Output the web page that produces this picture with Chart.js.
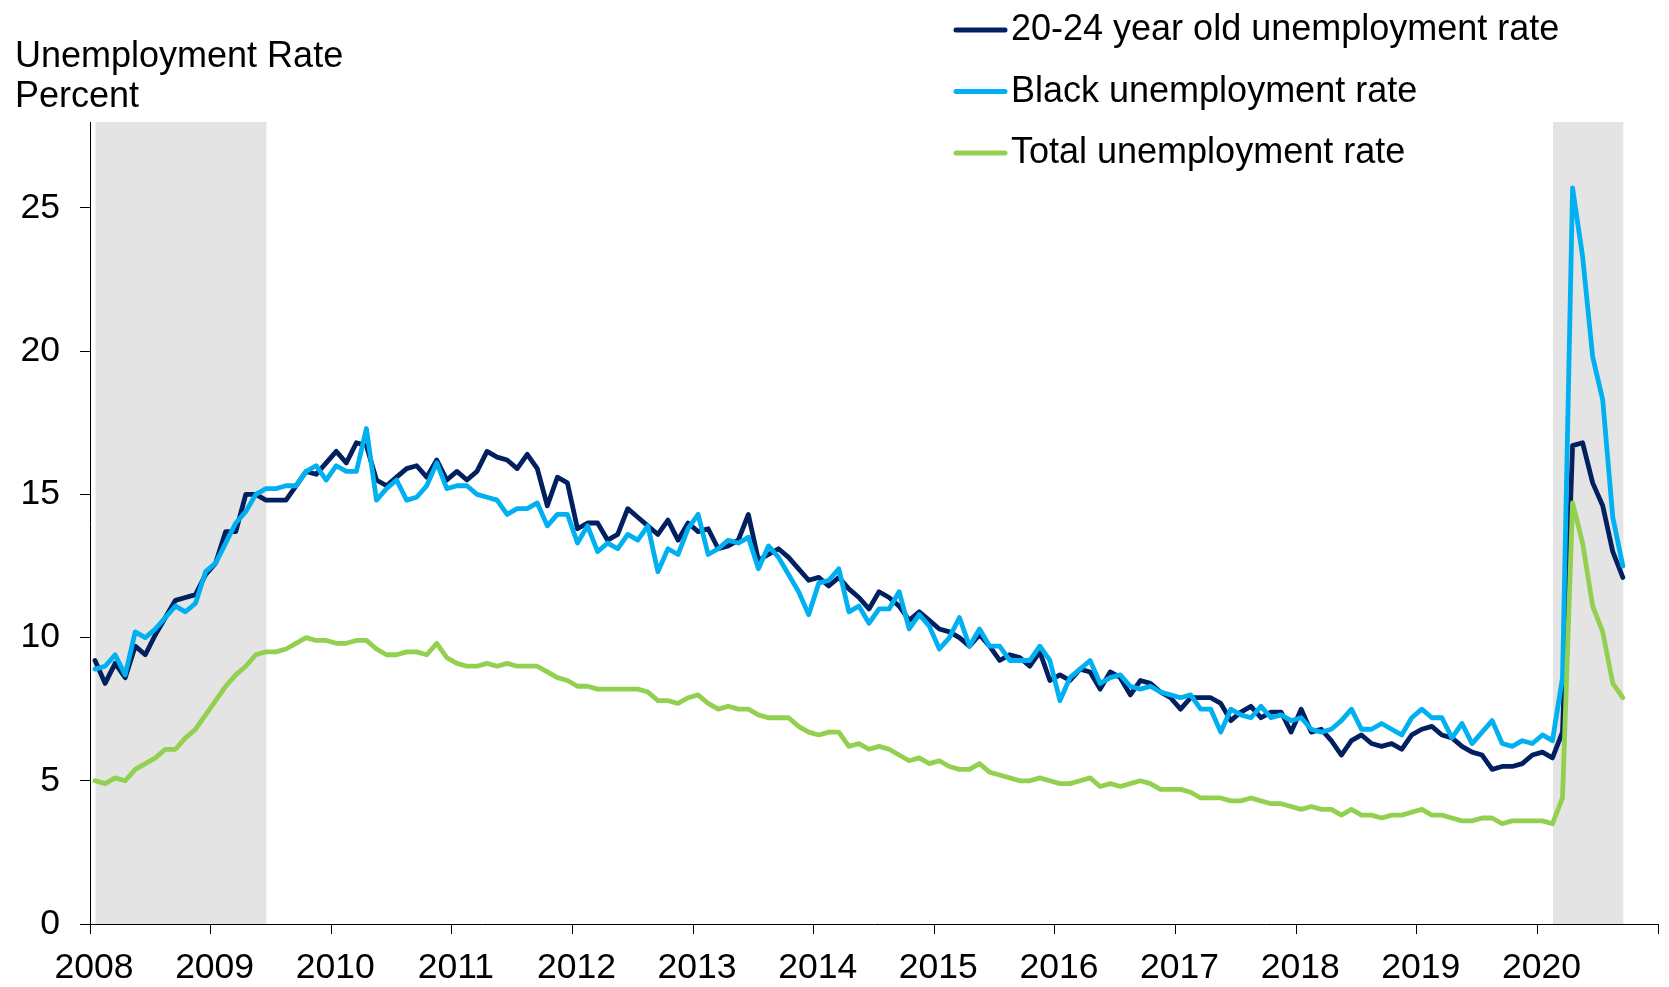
<!DOCTYPE html>
<html>
<head>
<meta charset="utf-8">
<script src="https://cdn.jsdelivr.net/npm/chart.js@4/dist/chart.umd.min.js"></script>
<style>
  html, body { margin: 0; padding: 0; background: #ffffff; }
  canvas { display: block; }
</style>
</head>
<body>
<canvas id="c" width="1669" height="987"></canvas>
<script>
// ---- Data (monthly, Jan 2008 .. Sep 2020) ----
const yearLabels = ['2008','2009','2010','2011','2012','2013','2014','2015','2016','2017','2018','2019','2020'];
const seriesLabels = ['20-24 year old unemployment rate', 'Black unemployment rate', 'Total unemployment rate'];

const youth2024Rate = [
  9.2, 8.4, 9.1, 8.6, 9.7, 9.4, 10.1, 10.7, 11.3, 11.4, 11.5, 12.2,
  12.6, 13.7, 13.7, 15.0, 15.0, 14.8, 14.8, 14.8, 15.3, 15.8, 15.7, 16.1,
  16.5, 16.1, 16.8, 16.7, 15.5, 15.3, 15.6, 15.9, 16.0, 15.6, 16.2, 15.5,
  15.8, 15.5, 15.8, 16.5, 16.3, 16.2, 15.9, 16.4, 15.9, 14.6, 15.6, 15.4,
  13.8, 14.0, 14.0, 13.4, 13.6, 14.5, 14.2, 13.9, 13.6, 14.1, 13.4, 14.0,
  13.7, 13.8, 13.1, 13.2, 13.4, 14.3, 12.7, 12.9, 13.1, 12.8, 12.4, 12.0,
  12.1, 11.8, 12.1, 11.7, 11.4, 11.0, 11.6, 11.4, 11.1, 10.6, 10.9, 10.6,
  10.3, 10.2, 10.0, 9.7, 10.1, 9.7, 9.2, 9.4, 9.3, 9.0, 9.5, 8.5,
  8.7, 8.5, 8.9, 8.8, 8.2, 8.8, 8.6, 8.0, 8.5, 8.4, 8.1, 7.9,
  7.5, 7.9, 7.9, 7.9, 7.7, 7.1, 7.4, 7.6, 7.2, 7.4, 7.4, 6.7,
  7.5, 6.7, 6.8, 6.4, 5.9, 6.4, 6.6, 6.3, 6.2, 6.3, 6.1, 6.6,
  6.8, 6.9, 6.6, 6.5, 6.2, 6.0, 5.9, 5.4, 5.5, 5.5, 5.6, 5.9,
  6.0, 5.8, 6.7, 16.7, 16.8, 15.4, 14.6, 13.0, 12.1
];

const blackRate = [
  8.9, 9.0, 9.4, 8.7, 10.2, 10.0, 10.3, 10.7, 11.1, 10.9, 11.2, 12.3,
  12.6, 13.3, 14.0, 14.4, 15.0, 15.2, 15.2, 15.3, 15.3, 15.8, 16.0, 15.5,
  16.0, 15.8, 15.8, 17.3, 14.8, 15.2, 15.5, 14.8, 14.9, 15.3, 16.1, 15.2,
  15.3, 15.3, 15.0, 14.9, 14.8, 14.3, 14.5, 14.5, 14.7, 13.9, 14.3, 14.3,
  13.3, 13.9, 13.0, 13.3, 13.1, 13.6, 13.4, 13.9, 12.3, 13.1, 12.9, 13.8,
  14.3, 12.9, 13.1, 13.4, 13.3, 13.5, 12.4, 13.2, 12.8, 12.2, 11.6, 10.8,
  11.9, 12.0, 12.4, 10.9, 11.1, 10.5, 11.0, 11.0, 11.6, 10.3, 10.8, 10.4,
  9.6, 10.0, 10.7, 9.7, 10.3, 9.7, 9.7, 9.2, 9.2, 9.2, 9.7, 9.2,
  7.8, 8.6, 8.9, 9.2, 8.4, 8.6, 8.7, 8.3, 8.2, 8.3, 8.1, 8.0,
  7.9, 8.0, 7.5, 7.5, 6.7, 7.5, 7.3, 7.2, 7.6, 7.2, 7.3, 7.1,
  7.2, 6.8, 6.7, 6.8, 7.1, 7.5, 6.8, 6.8, 7.0, 6.8, 6.6, 7.2,
  7.5, 7.2, 7.2, 6.5, 7.0, 6.3, 6.7, 7.1, 6.3, 6.2, 6.4, 6.3,
  6.6, 6.4, 8.6, 25.7, 23.3, 19.8, 18.3, 14.2, 12.5
];

const totalRate = [
  5.0, 4.9, 5.1, 5.0, 5.4, 5.6, 5.8, 6.1, 6.1, 6.5, 6.8, 7.3,
  7.8, 8.3, 8.7, 9.0, 9.4, 9.5, 9.5, 9.6, 9.8, 10.0, 9.9, 9.9,
  9.8, 9.8, 9.9, 9.9, 9.6, 9.4, 9.4, 9.5, 9.5, 9.4, 9.8, 9.3,
  9.1, 9.0, 9.0, 9.1, 9.0, 9.1, 9.0, 9.0, 9.0, 8.8, 8.6, 8.5,
  8.3, 8.3, 8.2, 8.2, 8.2, 8.2, 8.2, 8.1, 7.8, 7.8, 7.7, 7.9,
  8.0, 7.7, 7.5, 7.6, 7.5, 7.5, 7.3, 7.2, 7.2, 7.2, 6.9, 6.7,
  6.6, 6.7, 6.7, 6.2, 6.3, 6.1, 6.2, 6.1, 5.9, 5.7, 5.8, 5.6,
  5.7, 5.5, 5.4, 5.4, 5.6, 5.3, 5.2, 5.1, 5.0, 5.0, 5.1, 5.0,
  4.9, 4.9, 5.0, 5.1, 4.8, 4.9, 4.8, 4.9, 5.0, 4.9, 4.7, 4.7,
  4.7, 4.6, 4.4, 4.4, 4.4, 4.3, 4.3, 4.4, 4.3, 4.2, 4.2, 4.1,
  4.0, 4.1, 4.0, 4.0, 3.8, 4.0, 3.8, 3.8, 3.7, 3.8, 3.8, 3.9,
  4.0, 3.8, 3.8, 3.7, 3.6, 3.6, 3.7, 3.7, 3.5, 3.6, 3.6, 3.6,
  3.6, 3.5, 4.4, 14.7, 13.3, 11.1, 10.2, 8.4, 7.9
];

// Recession periods, as month indices from Jan 2008 (start, end)
const recessionStartMonth = [0, 145];
const recessionEndMonth = [17, 152];

const yTickValues = [0, 5, 10, 15, 20, 25];

// ---- Styles ----
const FONT = "'Liberation Sans', Arial, Helvetica, sans-serif";
const colors = ['#002060', '#00B0F0', '#92D050'];
const monthsPerYear = 12;
const axisMonths = yearLabels.length * monthsPerYear;

function toPoints(arr) {
  return arr.map((v, i) => ({ x: i + 0.5, y: v }));
}

const recessionPlugin = {
  id: 'recession',
  beforeDatasetsDraw(chart) {
    const { ctx, chartArea, scales } = chart;
    ctx.save();
    ctx.fillStyle = '#e4e4e4';
    for (let k = 0; k < recessionStartMonth.length; k++) {
      const x0 = scales.x.getPixelForValue(recessionStartMonth[k] + 0.55);
      const x1 = scales.x.getPixelForValue(recessionEndMonth[k] + 0.55);
      ctx.fillRect(x0, chartArea.top, x1 - x0, chartArea.bottom - chartArea.top);
    }
    ctx.restore();
  }
};

const textPlugin = {
  id: 'texts',
  afterDraw(chart) {
    const { ctx } = chart;
    ctx.save();
    ctx.fillStyle = '#000000';
    ctx.font = '36px ' + FONT;
    ctx.textAlign = 'left';
    ctx.textBaseline = 'alphabetic';
    ctx.fillText('Unemployment Rate', 15, 67);
    ctx.fillText('Percent', 15, 107);
    // legend
    const ds = chart.data.datasets;
    const baseY = 40, stepY = 61.5;
    for (let k = 0; k < ds.length; k++) {
      const by = baseY + k * stepY;
      const ly = by - 10;
      ctx.strokeStyle = ds[k].borderColor;
      ctx.lineWidth = 5;
      ctx.lineCap = 'round';
      ctx.beginPath();
      ctx.moveTo(956, ly);
      ctx.lineTo(1005, ly);
      ctx.stroke();
      ctx.fillStyle = '#000000';
      ctx.fillText(ds[k].label, 1011, by);
    }
    ctx.restore();
  }
};

const axisColor = '#000000';

new Chart(document.getElementById('c'), {
  type: 'line',
  data: {
    datasets: [
      { label: seriesLabels[0], data: toPoints(youth2024Rate), borderColor: colors[0], backgroundColor: colors[0], order: 3 },
      { label: seriesLabels[1], data: toPoints(blackRate), borderColor: colors[1], backgroundColor: colors[1], order: 2 },
      { label: seriesLabels[2], data: toPoints(totalRate), borderColor: colors[2], backgroundColor: colors[2], order: 1 }
    ]
  },
  options: {
    responsive: false,
    animation: false,
    devicePixelRatio: 1,
    layout: { padding: { top: 122, right: 11, left: 0, bottom: 0 } },
    elements: {
      point: { radius: 0, hoverRadius: 0 },
      line: { borderWidth: 4.8, tension: 0, borderJoinStyle: 'round', borderCapStyle: 'round', fill: false }
    },
    plugins: {
      legend: { display: false },
      title: { display: false },
      tooltip: { enabled: false }
    },
    scales: {
      x: {
        type: 'linear',
        min: 0,
        max: axisMonths,
        afterBuildTicks(scale) {
          const t = [];
          for (let k = 0; k <= yearLabels.length; k++) t.push({ value: k * monthsPerYear });
          scale.ticks = t;
        },
        afterFit(scale) { scale.height = 63; },
        ticks: {
          autoSkip: false,
          maxRotation: 0,
          padding: 8,
          labelOffset: 4,
          color: '#000000',
          font: { family: FONT, size: 35.5, lineHeight: 1.5 },
          callback(value) {
            const k = Math.round(value / monthsPerYear);
            return yearLabels[k] !== undefined ? yearLabels[k] : '';
          }
        },
        grid: { display: true, drawOnChartArea: false, drawTicks: true, tickLength: 10, color: axisColor, lineWidth: 1 },
        border: { display: true, color: axisColor, width: 1 }
      },
      y: {
        min: 0,
        max: 28,
        afterBuildTicks(scale) {
          scale.ticks = yTickValues.map(v => ({ value: v }));
        },
        afterFit(scale) { scale.width = 90; },
        ticks: {
          padding: 20,
          color: '#000000',
          font: { family: FONT, size: 35.5 }
        },
        grid: { display: true, drawOnChartArea: false, drawTicks: true, tickLength: 10, color: axisColor, lineWidth: 1 },
        border: { display: true, color: axisColor, width: 1 }
      }
    }
  },
  plugins: [recessionPlugin, textPlugin]
});
</script>
</body>
</html>
